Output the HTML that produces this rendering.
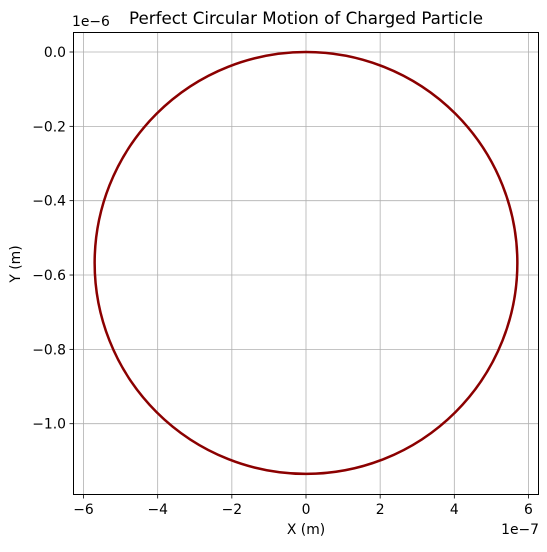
<!DOCTYPE html>
<html><head><meta charset="utf-8"><style>
body{margin:0;background:#fff;}
svg text{font-family:"DejaVu Sans","Liberation Sans",sans-serif;fill:#000;}
</style></head><body>
<svg id="chart" width="547" height="547" viewBox="0 0 547 547">
<rect width="547" height="547" fill="#fff"/>
<g id="grid"></g>
<g id="series"></g>
<rect x="73.5" y="32.5" width="465" height="462" fill="none" stroke="#000" stroke-width="1"/>
<g id="ticks"></g>
<text x="306" y="24" font-size="16.7" text-anchor="middle">Perfect Circular Motion of Charged Particle</text>
<text x="306" y="534" font-size="13.9" text-anchor="middle">X (m)</text>
<text x="20" y="264" font-size="13.9" text-anchor="middle" transform="rotate(-90 20 264)">Y (m)</text>
<text x="72" y="26" font-size="13.9">1e−6</text>
<text x="539" y="534" font-size="13.9" text-anchor="end">1e−7</text>
</svg>
<script>
const xTicks=[-6,-4,-2,0,2,4,6];
const xTickLabels=["−6","−4","−2","0","2","4","6"];
const yTicks=[0,-0.2,-0.4,-0.6,-0.8,-1.0];
const yTickLabels=["0.0","−0.2","−0.4","−0.6","−0.8","−1.0"];
const centerX=[0];          // units 1e-7
const centerY=[-0.5675];    // units 1e-6
const radiusX=[5.7];        // units 1e-7
const radiusY=[0.5675];     // units 1e-6
const NS="http://www.w3.org/2000/svg";
function xs(v){return 306+v*37.08;}
function ys(v){return 52-v*371.7;}
const grid=document.getElementById('grid'),ticks=document.getElementById('ticks'),series=document.getElementById('series');
function mk(tag,attrs,parent){const e=document.createElementNS(NS,tag);for(const k in attrs)e.setAttribute(k,attrs[k]);parent.appendChild(e);return e;}
xTicks.forEach((t,i)=>{
  const x=xs(t);
  const g=mk('line',{x1:x,x2:x,y1:32.5,y2:494.5,stroke:'#b0b0b0','stroke-width':0.8},grid);
  
  
  const tk=mk('line',{x1:x,x2:x,y1:494.5,y2:498.5,stroke:'#000','stroke-width':0.8},ticks);
  
  
  const tl=mk('text',{x:x,y:514,'font-size':13.9,'text-anchor':'middle'},ticks);
  tl.textContent=xTickLabels[i];
  
  
});
yTicks.forEach((t,i)=>{
  const y=ys(t);
  const g=mk('line',{x1:73.5,x2:538.5,y1:y,y2:y,stroke:'#b0b0b0','stroke-width':0.8},grid);
  
  
  const tk=mk('line',{x1:69.5,x2:73.5,y1:y,y2:y,stroke:'#000','stroke-width':0.8},ticks);
  
  
  const tl=mk('text',{x:66,y:y+5,'font-size':13.9,'text-anchor':'end'},ticks);
  tl.textContent=yTickLabels[i];
  
  
});
centerX.forEach((cx,i)=>{
  const px=xs(cx),py=ys(centerY[i]);
  const rx=xs(cx+radiusX[i])-px, ry=py-ys(centerY[i]+radiusY[i]);
  const e=mk('ellipse',{cx:px,cy:py,rx:rx,ry:ry,fill:'none',stroke:'#8b0000','stroke-width':2.5},series);
  
  
});
</script>
</body></html>
